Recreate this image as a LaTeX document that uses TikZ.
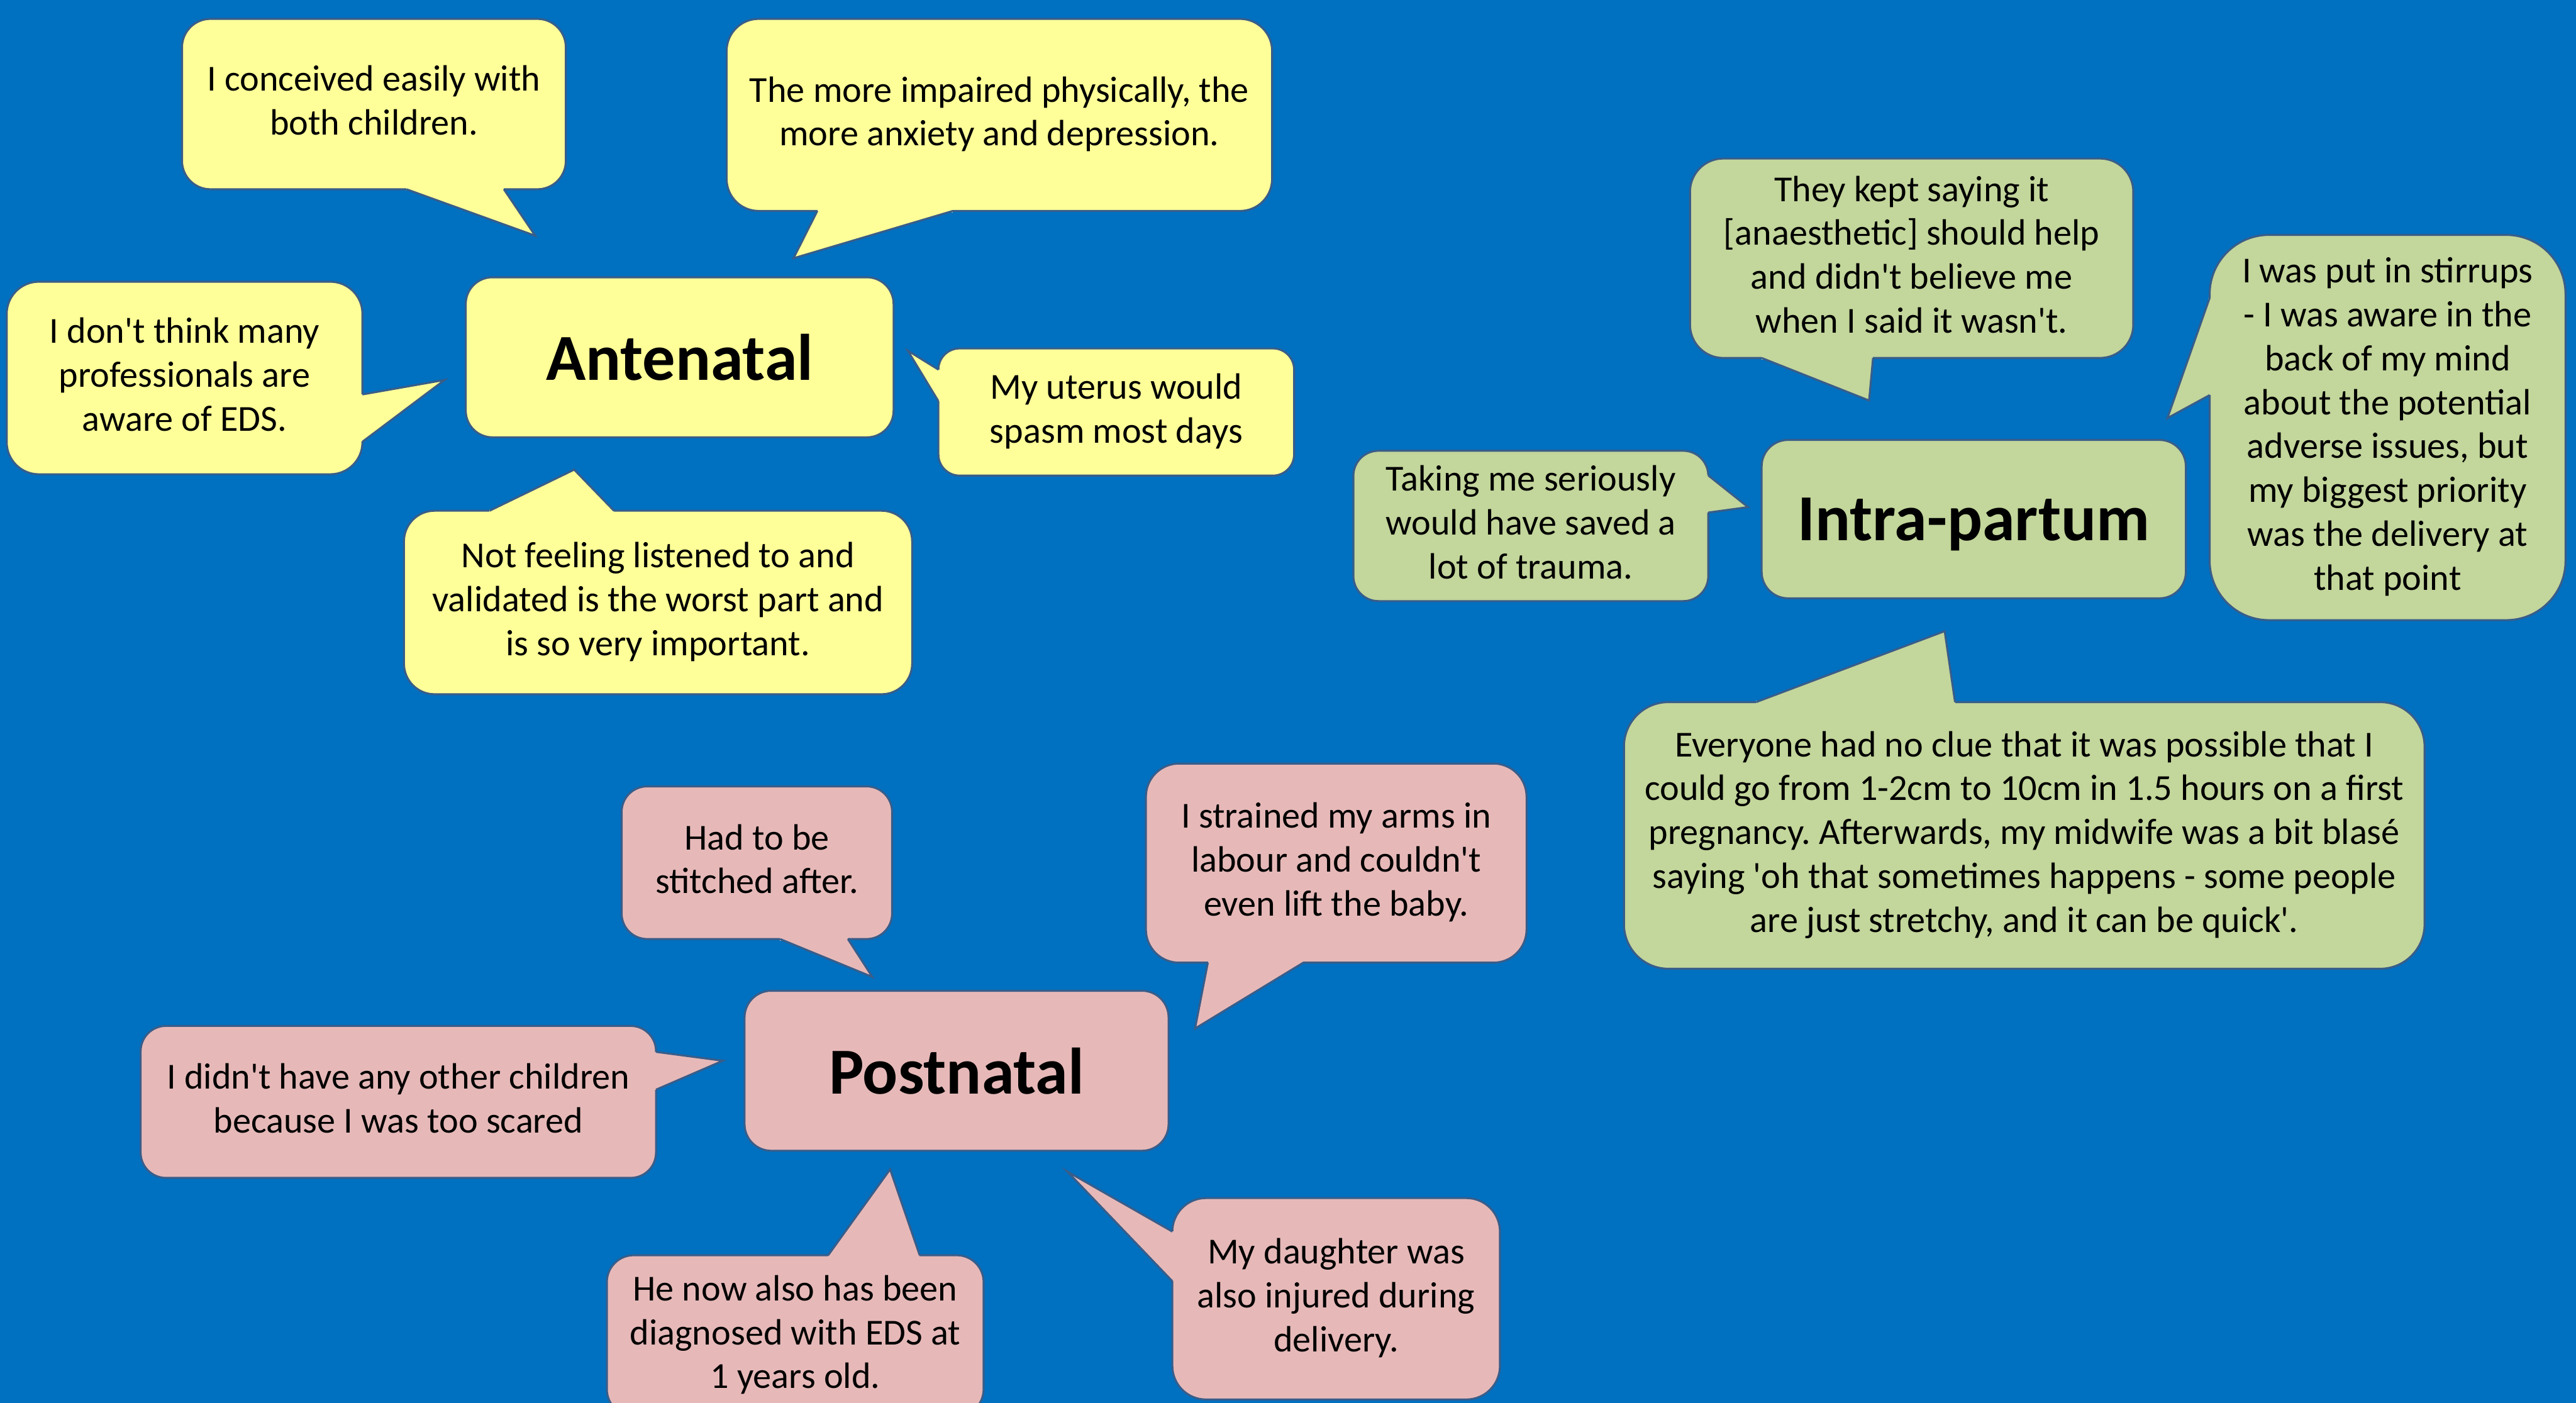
\documentclass[tikz,border=0pt]{standalone}
\usepackage{fontspec}
\setmainfont{Carlito}
\usetikzlibrary{calc}
\frenchspacing
\definecolor{bg}{HTML}{0070C0}
\definecolor{yel}{HTML}{FFFF99}
\definecolor{grn}{HTML}{C3D69B}
\definecolor{pnk}{HTML}{E6B9B8}
\definecolor{edgec}{HTML}{385D8A}
\newcommand\aps{\textquotesingle}
\newcommand\topstrut{\rule{0pt}{28.7pt}}
\newcommand\botstrut{\rule[-4.6pt]{0pt}{4.6pt}}
\tikzset{
  bubble/.style={draw=edgec, line width=1.2pt, inner sep=0pt, align=center,
    font=\fontsize{22.3}{26.7}\selectfont, text=black,
    execute at begin node=\topstrut, execute at end node=\botstrut},
  titlebox/.style={draw=edgec, line width=1.2pt, inner sep=0pt, align=center,
    text=black, font=\fontsize{40}{48}\selectfont\bfseries, text depth=0pt},
  ptrline/.style={draw=edgec, line width=1.2pt, line join=miter},
}
% name, x1, y1, x2, y2, style, text
\newcommand\mkbox[7]{%
  \pgfmathsetmacro\bw{#4-#2}\pgfmathsetmacro\bh{#5-#3}%
  \pgfmathsetmacro\br{min(\bw,\bh)/6}%
  \node[#6, minimum width=\bw pt, minimum height=\bh pt, rounded corners=\br pt]
    (#1) at ({(#2+#4)/2},{(#3+#5)/2}) {#7};
}
% fill, base1, base2, tip, inward
\newcommand\mkptr[5]{%
  \fill[#1] #2 -- (#4) -- #3 -- cycle;
  \fill[#1] ($#2+#5$) -- ($#3+#5$) -- ($#3-0.45*#5$) -- ($#2-0.45*#5$) -- cycle;
  \draw[ptrline] #2 -- (#4) -- #3;
}
\begin{document}
\begin{tikzpicture}[x=1pt,y=-1pt]
\useasboundingbox (0,0) rectangle (1568,854);
\clip (0,0) rectangle (1568,854);
\fill[bg] (0,0) rectangle (1568,854);

% ---------------- Antenatal ----------------
\mkbox{A0}{283.5}{168.8}{543.9}{266.2}{titlebox, fill=yel}{Antenatal}
\mkbox{A1}{110.8}{11.5}{344.4}{115.2}{bubble, fill=yel}{I conceived easily with\\both children.}
\coordinate (A1t) at (325.8,143.5);
\mkptr{yel}{(247.4,115.2)}{(306.7,115.2)}{A1t}{(0,-2)}
\mkbox{A2}{442.3}{11.5}{774.3}{128.4}{bubble, fill=yel}{The more impaired physically, the\\more anxiety and depression.}
\coordinate (A2t) at (483,157.2);
\mkptr{yel}{(497.5,128.4)}{(580,128.4)}{A2t}{(0,-2)}
\mkbox{A3}{4.1}{171.5}{220.6}{288.7}{bubble, fill=yel}{I don\aps t think many\\professionals are\\aware of EDS.}
\coordinate (A3t) at (270.6,231.3);
\mkptr{yel}{(220.6,240.1)}{(220.6,268.9)}{A3t}{(-2,0)}
\mkbox{A4}{571.2}{212.1}{787.7}{289.5}{bubble, fill=yel}{My uterus would\\spasm most days}
\coordinate (A4t) at (552.6,213.5);
\mkptr{yel}{(571.2,225)}{(571.2,244.2)}{A4t}{(2,0)}
\mkbox{A5}{245.9}{310.9}{555.2}{422.6}{bubble, fill=yel}{Not feeling listened to and\\validated is the worst part and\\is so very important.}
\coordinate (A5t) at (349.5,285.9);
\mkptr{yel}{(298,310.9)}{(373.7,310.9)}{A5t}{(0,2)}

% ---------------- Intra-partum ----------------
\mkbox{I0}{1072.3}{267.8}{1330.5}{364.2}{titlebox, fill=grn}{Intra-partum}
\mkbox{I1}{1028.7}{96.5}{1298.5}{217.9}{bubble, fill=grn}{They kept saying it\\{}[anaesthetic] should help\\and didn\aps t believe me\\when I said it wasn\aps t.}
\coordinate (I1t) at (1137.7,243.8);
\mkptr{grn}{(1072.3,217.9)}{(1140.1,217.9)}{I1t}{(0,-2)}
\mkbox{I2}{1345}{143}{1561.6}{377.5}{bubble, fill=grn}{I was put in stirrups\\- I was aware in the\\back of my mind\\about the potential\\adverse issues, but\\my biggest priority\\was the delivery at\\that point}
\coordinate (I2t) at (1319.3,254.5);
\mkptr{grn}{(1345,181.3)}{(1345,240.5)}{I2t}{(2,0)}
\mkbox{I3}{823.8}{274.4}{1039.8}{365.9}{bubble, fill=grn}{Taking me seriously\\would have saved a\\lot of trauma.}
\coordinate (I3t) at (1064,308.7);
\mkptr{grn}{(1039.8,289.4)}{(1039.8,312)}{I3t}{(-2,0)}
\mkbox{I4}{988.5}{427.4}{1475.8}{589.7}{bubble, fill=grn}{Everyone had no clue that it was possible that I\\could go from 1-2cm to 10cm in 1.5 hours on a first\\pregnancy. Afterwards, my midwife was a bit blasé\\saying \aps oh that sometimes happens - some people\\are just stretchy, and it can be quick\aps .}
\coordinate (I4t) at (1183.7,384.2);
\mkptr{grn}{(1068.9,427.4)}{(1190,427.4)}{I4t}{(0,2)}

% ---------------- Postnatal ----------------
\mkbox{P0}{453.2}{603.1}{711.3}{700.5}{titlebox, fill=pnk}{Postnatal}
\mkbox{P1}{378.4}{478.7}{543}{571.6}{bubble, fill=pnk}{Had to be\\stitched after.}
\coordinate (P1t) at (531,594.7);
\mkptr{pnk}{(474.8,571.6)}{(516.1,571.6)}{P1t}{(0,-2)}
\mkbox{P2}{697.5}{464.8}{929.2}{586}{bubble, fill=pnk}{I strained my arms in\\labour and couldn\aps t\\even lift the baby.}
\coordinate (P2t) at (727.4,626.1);
\mkptr{pnk}{(735.2,586)}{(793.3,586)}{P2t}{(0,-2)}
\mkbox{P3}{85.6}{624.5}{399.3}{717}{bubble, fill=pnk}{I didn\aps t have any other children\\because I was too scared}
\coordinate (P3t) at (440,645.7);
\mkptr{pnk}{(399.3,640.3)}{(399.3,663.3)}{P3t}{(-2,0)}
\mkbox{P4}{369.4}{764.1}{598.7}{862}{bubble, fill=pnk}{He now also has been\\diagnosed with EDS at\\1 years old.}
\coordinate (P4t) at (541.8,711.8);
\mkptr{pnk}{(504.1,764.1)}{(559.8,764.1)}{P4t}{(0,2)}
\mkbox{P5}{713.6}{729.3}{913}{851.9}{bubble, fill=pnk}{My daughter was\\also injured during\\delivery.}
\coordinate (P5t) at (649.6,713.1);
\mkptr{pnk}{(713.6,749.7)}{(713.6,779.9)}{P5t}{(2,0)}
\end{tikzpicture}
\end{document}
